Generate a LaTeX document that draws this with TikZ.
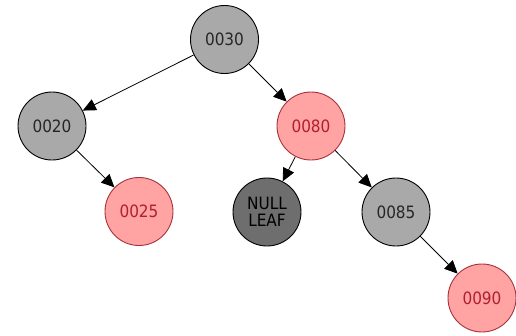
\documentclass[tikz,border=0pt]{standalone}
\usepackage{fontspec}
\setsansfont{DejaVu Sans Condensed}
\usetikzlibrary{arrows.meta}

\definecolor{blackfill}{HTML}{A9A9A9}
\definecolor{redfill}{HTML}{FFA3A3}
\definecolor{redline}{HTML}{A8323C}
\definecolor{redtext}{HTML}{B0202C}
\definecolor{leaffill}{HTML}{6E6E6E}

\tikzset{
    treenode/.style={circle, minimum size=68pt, inner sep=0pt, line width=0.9pt,
        font=\sffamily\fontsize{17}{17}\selectfont},
    blacknode/.style={treenode, draw=black, fill=blackfill, text=black!85},
    rednode/.style={treenode, draw=redline, fill=redfill, text=redtext},
    leafnode/.style={treenode, draw=black, fill=leaffill, text=black, align=center},
    child/.style={draw=black, line width=0.8pt, -{Triangle[length=13pt, width=12pt]}}
}

\begin{document}
\begin{tikzpicture}[x=1pt, y=-1pt]

    % --- Frame ---
    \useasboundingbox (0,0) rectangle (516,335);

    % --- Nodes ---
    \node[blacknode] (n30) at (224.5,39.5) {0030};
    \node[blacknode] (n20) at (52,126) {0020};
    \node[rednode]   (n80) at (311,126) {0080};
    \node[rednode]   (n25) at (139,211.5) {0025};
    \node[leafnode]  (nil) at (267,212) {NULL\\LEAF};
    \node[blacknode] (n85) at (396,212) {0085};
    \node[rednode]   (n90) at (482,298) {0090};

    % --- Edges ---
    \draw[child] (n30) -- (n20);
    \draw[child] (n30) -- (n80);
    \draw[child] (n20) -- (n25);
    \draw[child] (n80) -- (nil);
    \draw[child] (n80) -- (n85);
    \draw[child] (n85) -- (n90);

\end{tikzpicture}
\end{document}
